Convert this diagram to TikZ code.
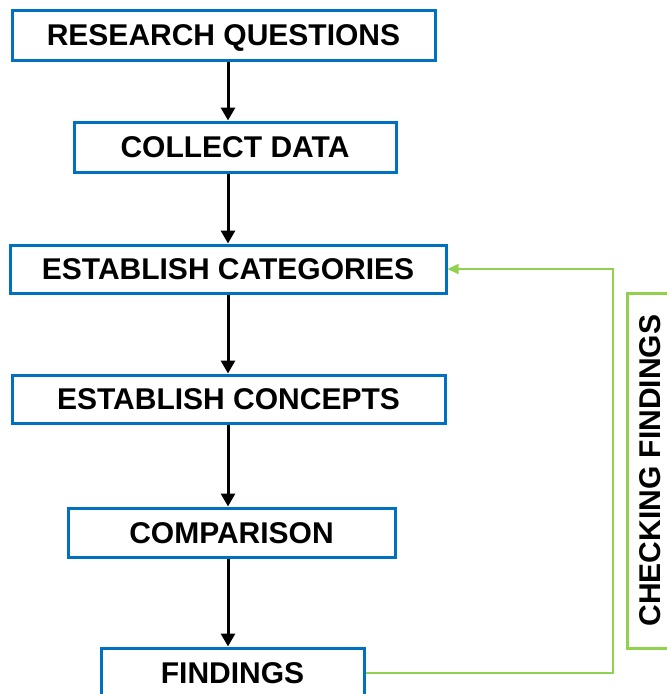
\documentclass[tikz,border=0pt]{standalone}
\usepackage{fontspec}
\setmainfont{Liberation Sans}
\usetikzlibrary{arrows.meta}
\definecolor{boxblue}{HTML}{0070C0}
\definecolor{loopgreen}{HTML}{92D050}
\begin{document}
\begin{tikzpicture}[x=1pt,y=-1pt,
  stagebox/.style={draw=boxblue, line width=3pt, fill=white, inner sep=0pt,
    font=\fontsize{30}{36}\selectfont\bfseries, text height=21.6pt, text depth=0pt},
  flow/.style={line width=3pt, -{Triangle[length=13pt,width=14pt]}},
  feedback/.style={draw=loopgreen, line width=1.6pt, -{Triangle[length=11pt,width=10pt]}},
  checkbox/.style={draw=loopgreen, line width=3pt, inner sep=0pt, rotate=90,
    font=\fontsize{30}{36}\selectfont\bfseries, text height=21.6pt, text depth=0pt}]
  \useasboundingbox (0,0) rectangle (667,694);

  % process stages
  \node[stagebox, minimum width=423pt, minimum height=50pt] (rq)   at (223.5,35)  {RESEARCH QUESTIONS};
  \node[stagebox, minimum width=322pt, minimum height=50pt] (cd)   at (235,147)   {COLLECT DATA};
  \node[stagebox, minimum width=436pt, minimum height=48pt] (cat)  at (228,269)   {ESTABLISH CATEGORIES};
  \node[stagebox, minimum width=433pt, minimum height=48pt] (con)  at (228.5,399) {ESTABLISH CONCEPTS};
  \node[stagebox, minimum width=327pt, minimum height=49pt] (cmp)  at (231.5,532.5) {COMPARISON};
  \node[stagebox, minimum width=263pt, minimum height=50pt] (fnd)  at (232.5,673) {FINDINGS};

  % feedback label
  \node[checkbox, minimum width=355pt, minimum height=45pt] (chk) at (649.5,470.5) {CHECKING FINDINGS};

  % main flow, all arrows on one vertical axis
  \coordinate (ax) at (228,0);
  \draw[flow] (rq.south -| ax)  -- (cd.north -| ax);
  \draw[flow] (cd.south -| ax)  -- (cat.north -| ax);
  \draw[flow] (cat.south -| ax) -- (con.north -| ax);
  \draw[flow] (con.south -| ax) -- (cmp.north -| ax);
  \draw[flow] (cmp.south -| ax) -- (fnd.north -| ax);

  % feedback loop from findings back to categories
  \coordinate (turn) at (613,470);
  \draw[feedback] (fnd.east) -| (turn) |- (cat.east);
\end{tikzpicture}
\end{document}
